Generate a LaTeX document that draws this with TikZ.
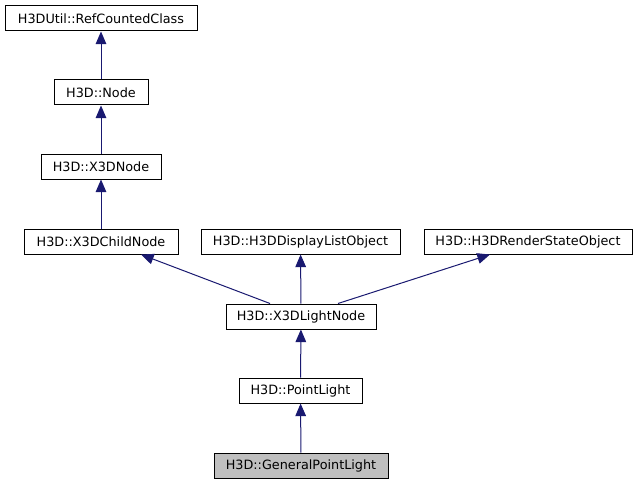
\documentclass[tikz,border=0pt]{standalone}
\usepackage{fontspec}
\setmainfont{DejaVu Sans}
\usetikzlibrary{arrows.meta}
\definecolor{edgeblue}{RGB}{25,25,112}
\definecolor{curgray}{RGB}{191,191,191}
\begin{document}
\begin{tikzpicture}[x=0.75pt,y=-0.75pt,
  cls/.style={draw=black,line width=0.75pt,fill=white,minimum height=25*0.75pt,inner sep=0pt,font=\fontsize{9.6}{11}\selectfont,anchor=center},
  cur/.style={cls,fill=curgray},
  inh/.style={draw=edgeblue,line width=0.75pt,-{Triangle[length=9.5pt,width=8pt,fill=edgeblue]}}]
\useasboundingbox (0,0) rectangle (639,485);
\node[cls,minimum width=192*0.75pt] (rc) at (101,18.5) {H3DUtil::RefCountedClass};
\node[cls,minimum width=94*0.75pt] (nd) at (101,92.5) {H3D::Node};
\node[cls,minimum width=120*0.75pt] (x3d) at (101,166.5) {H3D::X3DNode};
\node[cls,minimum width=154*0.75pt] (cn) at (101,241.5) {H3D::X3DChildNode};
\node[cls,minimum width=199*0.75pt] (dl) at (300.5,241.5) {H3D::H3DDisplayListObject};
\node[cls,minimum width=208*0.75pt] (rs) at (528,241.5) {H3D::H3DRenderStateObject};
\node[cls,minimum width=150*0.75pt] (ln) at (301,316.5) {H3D::X3DLightNode};
\node[cls,minimum width=123*0.75pt] (pl) at (300.5,390.5) {H3D::PointLight};
\node[cur,minimum width=174*0.75pt] (gpl) at (301,465.5) {H3D::GeneralPointLight};
\draw[inh] (nd) -- (rc);
\draw[inh] (x3d) -- (nd);
\draw[inh] (cn) -- (x3d);
\draw[inh] (ln.north -| 270,0) -- (cn.south -| 141,0);
\draw[inh] (ln) -- (dl);
\draw[inh] (ln.north -| 338,0) -- (rs.south -| 490,0);
\draw[inh] (pl) -- (ln);
\draw[inh] (gpl) -- (pl);
\end{tikzpicture}
\end{document}
